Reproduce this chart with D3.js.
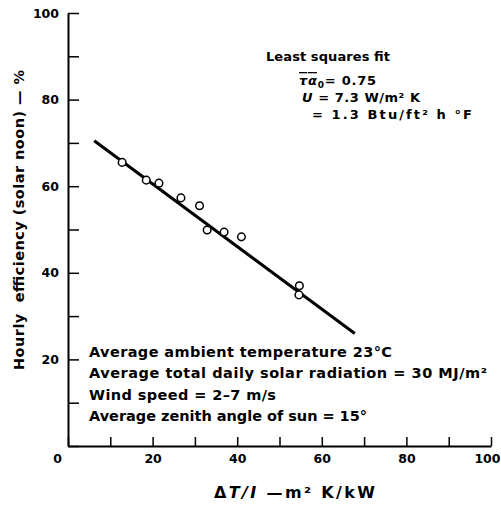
<!DOCTYPE html>
<html>
<head>
<meta charset="utf-8">
<script src="https://cdn.jsdelivr.net/npm/d3@7"></script>
<style>
  body { margin: 0; background: #fff; }
  svg text { font-family: "DejaVu Sans", sans-serif; fill: #000; font-weight: bold; }
</style>
</head>
<body>
<svg id="chart" width="501" height="506"></svg>
<script>
const dtI = [12.8, 18.5, 21.5, 26.7, 31.1, 32.9, 36.9, 41.0, 54.7, 54.6];
const eff = [65.5, 61.4, 60.7, 57.3, 55.5, 49.9, 49.4, 48.3, 37.0, 34.9];

// least squares line end points
const fitX = [6.2, 67.8];
const fitY = [70.5, 26.0];

const xTicks = [0, 10, 20, 30, 40, 50, 60, 70, 80, 90, 100];
const yTicks = [0, 10, 20, 30, 40, 50, 60, 70, 80, 90, 100];
const xLabels = [0, 20, 40, 60, 80, 100];
const yLabels = [20, 40, 60, 80, 100];

const notes = [
  'Average ambient temperature 23°C',
  'Average total daily solar radiation = 30 MJ/m²',
  'Wind speed = 2–7 m/s',
  'Average zenith angle of sun = 15°'
];
const noteWidths = [303, 398, 187, 278];

const svg = d3.select('#chart');

const x = d3.scaleLinear().domain([0, 100]).range([68, 491]);
const y = d3.scaleLinear().domain([0, 100]).range([446, 13]);

// y axis, ticks point inward
const yAxis = svg.append('g')
  .attr('transform', `translate(${x(0)},0)`)
  .call(d3.axisLeft(y)
    .tickValues(yTicks)
    .tickSizeInner(-11)
    .tickSizeOuter(0)
    .tickPadding(9)
    .tickFormat(d => yLabels.includes(d) ? d : ''));

const xAxis = svg.append('g')
  .attr('transform', `translate(0,${y(0)})`)
  .call(d3.axisBottom(x)
    .tickValues(xTicks)
    .tickSizeInner(-9)
    .tickSizeOuter(0)
    .tickPadding(8)
    .tickFormat(d => xLabels.includes(d) ? d : ''));

[yAxis, xAxis].forEach(a => {
  a.select('.domain').attr('stroke', '#000').attr('stroke-width', 2);
  a.selectAll('.tick line').attr('stroke', '#000').attr('stroke-width', 1.5);
  a.selectAll('.tick text').attr('font-size', 12.5).attr('fill', '#000')
    .style('font-family', '"DejaVu Sans", sans-serif')
    .style('font-weight', 'bold');
});

// origin label sits left of the corner, 100 pulled in from the edge
xAxis.selectAll('.tick text').filter(d => d === 0).attr('x', -11);
xAxis.selectAll('.tick text').filter(d => d === 100).attr('x', 9).attr('text-anchor', 'end');

// fit line
const line = d3.line().x(d => x(d[0])).y(d => y(d[1]));
svg.append('path')
  .datum(d3.zip(fitX, fitY))
  .attr('fill', 'none')
  .attr('stroke', '#000')
  .attr('stroke-width', 3)
  .attr('d', line);

svg.append('g')
  .selectAll('circle')
  .data(d3.zip(dtI, eff))
  .join('circle')
  .attr('cx', d => x(d[0]))
  .attr('cy', d => y(d[1]))
  .attr('r', 3.8)
  .attr('fill', '#fff')
  .attr('stroke', '#000')
  .attr('stroke-width', 1.5);

// axis titles
svg.append('text')
  .attr('transform', 'translate(24,220) rotate(-90)')
  .attr('text-anchor', 'middle')
  .attr('font-size', 14.5)
  .attr('xml:space', 'preserve')
  .attr('textLength', 300)
  .attr('lengthAdjust', 'spacing')
  .text('Hourly  efficiency (solar noon) — %');

const xt = svg.append('text')
  .attr('x', 214).attr('y', 498)
  .attr('font-size', 16)
  .attr('textLength', 161)
  .attr('lengthAdjust', 'spacing');
xt.append('tspan').text('Δ');
xt.append('tspan').attr('font-style', 'italic').text('T/I');
xt.append('tspan').text(' —m² K/kW');

// fit annotation
const ann = svg.append('g').attr('font-size', 13);
ann.append('text').attr('x', 266).attr('y', 61)
  .attr('textLength', 124).attr('lengthAdjust', 'spacing')
  .text('Least squares fit');

const t1 = ann.append('text').attr('x', 299).attr('y', 85)
  .attr('textLength', 77).attr('lengthAdjust', 'spacing');
t1.append('tspan').attr('font-style', 'italic').attr('text-decoration', 'overline').text('τα');
t1.append('tspan').attr('font-size', 9).attr('dy', 3).text('0');
t1.append('tspan').attr('dy', -3).text('= 0.75');

const t2 = ann.append('text').attr('x', 302).attr('y', 102)
  .attr('textLength', 118).attr('lengthAdjust', 'spacing');
t2.append('tspan').attr('font-style', 'italic').text('U');
t2.append('tspan').text(' = 7.3 W/m² K');

ann.append('text').attr('x', 312).attr('y', 119)
  .attr('textLength', 160).attr('lengthAdjust', 'spacing')
  .text('= 1.3 Btu/ft² h °F');

// conditions block
svg.append('g')
  .selectAll('text')
  .data(notes)
  .join('text')
  .attr('x', 89)
  .attr('y', (d, i) => 357 + i * 21.3)
  .attr('font-size', 14.5)
  .attr('textLength', (d, i) => noteWidths[i])
  .attr('lengthAdjust', 'spacing')
  .text(d => d);
</script>
</body>
</html>
